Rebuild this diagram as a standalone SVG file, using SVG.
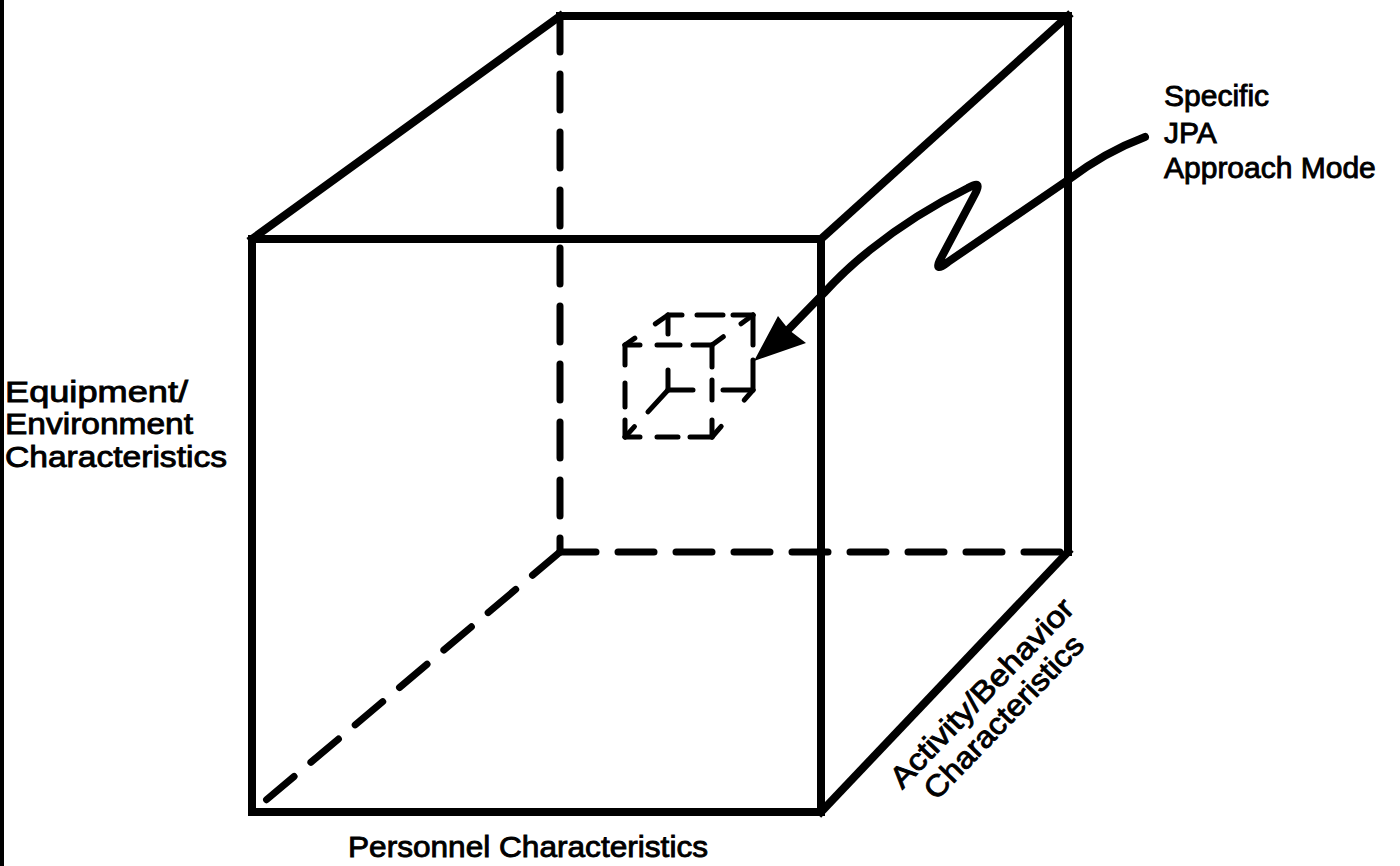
<svg xmlns="http://www.w3.org/2000/svg" width="1400" height="866" viewBox="0 0 1400 866">
  <style>
    .solid { stroke: #000; stroke-width: 8; fill: none; stroke-linecap: square; }
    .dash { stroke: #000; stroke-width: 7; fill: none; stroke-dasharray: 36 22; stroke-linecap: round; }
    .sdash { stroke: #000; stroke-width: 5; fill: none; stroke-linecap: round; }
    .lbl { font-family: "Liberation Sans", Arial, sans-serif; font-size: 30px; fill: #000; stroke: #000; stroke-width: 0.9; }
  </style>
  <rect width="1400" height="866" fill="#fff"/>
  <line x1="2" y1="0" x2="2" y2="866" stroke="#000" stroke-width="4"/>

  <g id="cube">
    <!-- hidden edges -->
    <line class="dash" x1="560" y1="16" x2="560" y2="552"/>
    <line class="dash" x1="560" y1="552" x2="1068" y2="552"/>
    <line class="dash" x1="560" y1="552" x2="252" y2="812"/>
    <!-- back solid edges -->
    <polyline class="solid" points="560,16 1068,16 1068,552"/>
    <!-- receding edges -->
    <line class="solid" x1="252" y1="239" x2="560" y2="16"/>
    <line class="solid" x1="821" y1="239" x2="1068" y2="16"/>
    <line class="solid" x1="821" y1="812" x2="1068" y2="552"/>
    <!-- front face -->
    <rect class="solid" x="252" y="239" width="569" height="573" stroke-width="9"/>
  </g>

  <g id="small-cube">
    <!-- front face -->
    <line class="sdash" x1="625" y1="345" x2="712" y2="345" stroke-dasharray="15 17 23 13 20"/>
    <line class="sdash" x1="712" y1="345" x2="712" y2="437" stroke-dasharray="22 13 20 20 20"/>
    <line class="sdash" x1="625" y1="437" x2="712" y2="437" stroke-dasharray="15 17 21 12 22"/>
    <line class="sdash" x1="625" y1="345" x2="625" y2="437" stroke-dasharray="20 18 24 13 17"/>
    <!-- back face -->
    <line class="sdash" x1="668" y1="315" x2="753" y2="315" stroke-dasharray="14 15 26 10 20"/>
    <line class="sdash" x1="753" y1="315" x2="753" y2="390" stroke-dasharray="30 15 30"/>
    <line class="sdash" x1="668" y1="390" x2="753" y2="390" stroke-dasharray="25 30 30"/>
    <line class="sdash" x1="668" y1="390" x2="668" y2="315" stroke-dasharray="20 36 20"/>
    <!-- receding -->
    <line class="sdash" x1="625" y1="345" x2="668" y2="315" stroke-dasharray="12 25 15"/>
    <line class="sdash" x1="712" y1="345" x2="753" y2="315" stroke-dasharray="14 22 15"/>
    <line class="sdash" x1="712" y1="437" x2="753" y2="390" stroke-dasharray="14 35 14"/>
    <line class="sdash" x1="625" y1="437" x2="668" y2="390" stroke-dasharray="14 20 30"/>
  </g>

  <g id="connectors">
    <path d="M1145,137 Q1105,152 1068,180 L948,262 Q934,273 940,260 L975,194 Q983,179 968,188 Q915,214 870,250 Q845,270 824,293 L786,332" fill="none" stroke="#000" stroke-width="8" stroke-linejoin="round" stroke-linecap="round"/>
    <polygon points="754,361 778,316 789,330 806,343" fill="#000"/>
  </g>

  <g id="label-mode">
    <text class="lbl" x="1164" y="106">Specific</text>
    <text class="lbl" x="1164" y="143">JPA</text>
    <text class="lbl" x="1164" y="178">Approach Mode</text>
  </g>
  <g id="label-equipment">
    <text class="lbl" x="5" y="402" font-size="28" textLength="183" lengthAdjust="spacingAndGlyphs">Equipment/</text>
    <text class="lbl" x="5" y="434" font-size="28" textLength="188" lengthAdjust="spacingAndGlyphs">Environment</text>
    <text class="lbl" x="5" y="467" font-size="28" textLength="222" lengthAdjust="spacingAndGlyphs">Characteristics</text>
  </g>
  <g id="label-personnel">
    <text class="lbl" x="348" y="857" font-size="28" textLength="360" lengthAdjust="spacingAndGlyphs">Personnel Characteristics</text>
  </g>
  <g id="label-activity">
    <text class="lbl" font-size="30" text-anchor="middle" transform="translate(989,700) rotate(-46)" textLength="250" lengthAdjust="spacingAndGlyphs">Activity/Behavior</text>
    <text class="lbl" font-size="30" text-anchor="middle" transform="translate(1011,724) rotate(-46)" textLength="215" lengthAdjust="spacingAndGlyphs">Characteristics</text>
  </g>
</svg>
